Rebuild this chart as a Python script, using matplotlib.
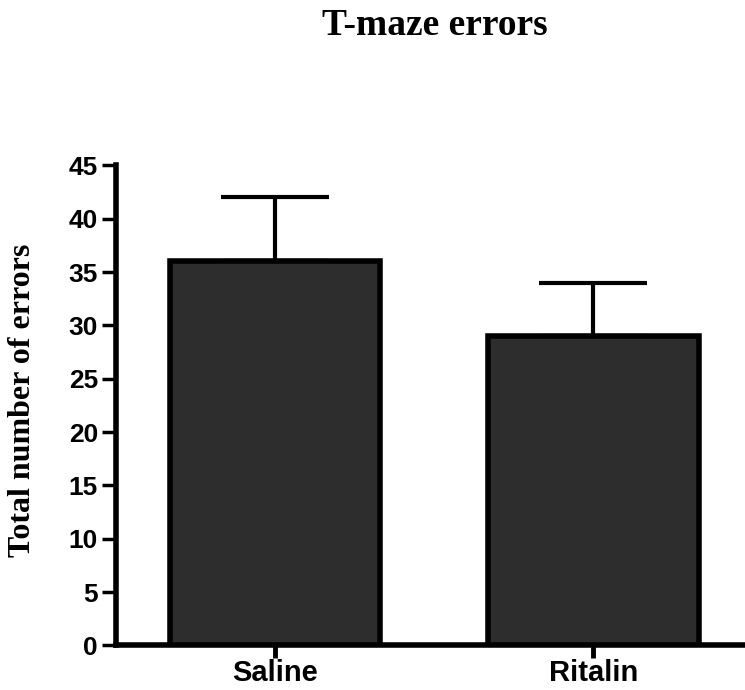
import matplotlib
matplotlib.use('Agg')
import matplotlib.pyplot as plt

# T-maze errors: media e SEM por grupo
groups = ['Saline', 'Ritalin']
errors_mean = [36, 29]
errors_sem = [6, 5]
yticks = [0, 5, 10, 15, 20, 25, 30, 35, 40, 45]

fig = plt.figure(figsize=(7.45, 6.9), dpi=100)
ax = fig.add_axes([0.1557, 0.0645, 0.8443, 0.6957])

x = range(len(groups))
ax.bar(x, errors_mean, width=0.66, color='#2d2d2d', edgecolor='black',
       linewidth=4, zorder=3)
ax.errorbar(x, errors_mean, yerr=[[0] * len(groups), errors_sem], fmt='none',
            ecolor='black', elinewidth=3, capsize=39, capthick=3, zorder=2)

ax.set_xlim(-0.499, 1.476)
ax.set_ylim(0, 45)
ax.set_yticks(yticks)
ax.set_xticks(list(x))
ax.set_xticklabels(groups)

for side in ['top', 'right']:
    ax.spines[side].set_visible(False)
for side in ['left', 'bottom']:
    ax.spines[side].set_linewidth(4)

ax.tick_params(axis='y', length=10, width=2.5, pad=3)
ax.tick_params(axis='x', length=9, width=3.5, pad=1)
for lab in ax.get_yticklabels():
    lab.set_fontfamily('Liberation Sans')
    lab.set_fontweight('bold')
    lab.set_fontsize(19)
for lab in ax.get_xticklabels():
    lab.set_fontfamily('Liberation Sans')
    lab.set_fontweight('bold')
    lab.set_fontsize(21)

fig.text(435 / 745, 1 - 35 / 690, 'T-maze errors', family='Liberation Serif',
         fontweight='bold', fontsize=27, ha='center', va='baseline')
fig.text(23 / 745, 1 - 400 / 690, 'Total number of errors', family='Liberation Serif',
         fontweight='bold', fontsize=23, rotation=90, ha='center', va='center')

fig.savefig('out.png', dpi=100)
